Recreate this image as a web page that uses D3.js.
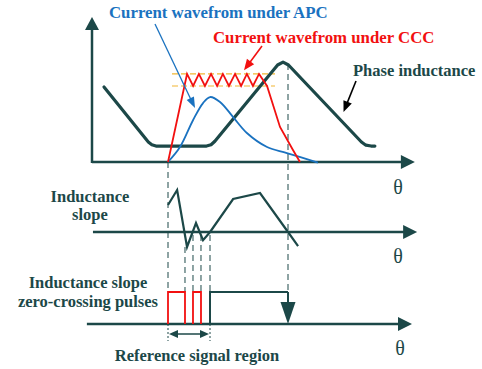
<!DOCTYPE html>
<html><head><meta charset="utf-8">
<script src="https://cdn.jsdelivr.net/npm/d3@7"></script>
<style>
html,body{margin:0;padding:0;background:#fff;}
svg{display:block;}
</style>
</head><body>
<svg id="chart" width="482" height="369"></svg>
<script>
// ---------- DATA (x in angle units 0..100, y in normalized units) ----------
const phaseInductance = [[3.75,53.6],[17.6,14.3],[18.7,12.3],[20,11.4],[35.8,11.4],[37.2,12.3],[38.4,14.8],[58,69.3],[59.7,71.4],[61.4,69.3],[84.2,14.3],[85.6,12],[87.2,11.4],[88.4,11.4]];
const currentCCC = [[23.75,0],[29.7,62.9],[31.6,54.3],[33.4,62.9],[35.3,54.3],[37.2,62.9],[39.1,54.3],[40.9,62.9],[42.8,54.3],[44.7,62.9],[46.6,54.3],[48.4,62.9],[50.3,54.3],[52.2,62.9],[54.7,54.3],[58.75,25],[62.8,8.6],[65,0]];
const currentAPC = [[23.75,0],[27.5,10.7],[31.6,30],[34.7,42.1],[36.9,46.4],[40,42.9],[44.1,32.1],[48.4,20.7],[54.7,10.7],[60.9,6.4],[70.6,-0.5]];
const hysteresisBand = [62.9, 54.3];
const bandRange = [25, 57.2];
const inductanceSlope = [[23.75,0.9],[26.6,1.4],[29.7,-0.5],[32.5,0.3],[34.7,-0.27],[36.9,0],[44.1,1.1],[52.5,1.3],[61.25,0],[64.4,-0.47]];
const zeroCrossings = [29.06,31.56,34.06,36.875];
const redPulses = [[23.75,29.06],[31.56,34.06]];
const darkPulse = [36.875,61.25];
const referenceRegion = [23.75,36.875];
const commutationAngle = 61.25;
const startAngle = 23.75;
const labels = {
  apc:"Current wavefrom under APC",
  ccc:"Current wavefrom under CCC",
  phase:"Phase inductance",
  slope:["Inductance","slope"],
  pulses:["Inductance slope","zero-crossing pulses"],
  region:"Reference signal region",
  theta:"θ"
};

// ---------- SCALES ----------
const DARK="#1c4848", BLUE="#1a72c0", RED="#f21010", ORANGE="#f2b632";
const FONT="'Liberation Serif','Times New Roman',Times,serif";
const svg=d3.select("#chart");
const x=d3.scaleLinear().domain([0,100]).range([92,412]);
const yTop=d3.scaleLinear().domain([0,100]).range([162,22]);
const yMid=d3.scaleLinear().domain([-1,1]).range([262,202]);
const yBot=d3.scaleLinear().domain([0,1]).range([324,292]);

function arrowHead(g,x1,y1,x2,y2,len,w,color){
  const a=Math.atan2(y2-y1,x2-x1);
  const bx=x2-len*Math.cos(a), by=y2-len*Math.sin(a);
  const px=-Math.sin(a)*w/2, py=Math.cos(a)*w/2;
  g.append("path").attr("d",`M${x2},${y2}L${bx+px},${by+py}L${bx-px},${by-py}Z`).attr("fill",color);
}
function arrowLine(g,x1,y1,x2,y2,sw,len,w,color){
  const a=Math.atan2(y2-y1,x2-x1);
  g.append("line").attr("x1",x1).attr("y1",y1).attr("x2",x2-(len*0.8)*Math.cos(a)).attr("y2",y2-(len*0.8)*Math.sin(a))
   .attr("stroke",color).attr("stroke-width",sw);
  arrowHead(g,x1,y1,x2,y2,len,w,color);
}
function label(g,tx,ty,str,opts){
  const t=g.append("text").attr("x",tx).attr("y",ty).attr("font-family",FONT)
    .attr("fill",opts.color||DARK).attr("font-size",opts.size||16.5)
    .attr("font-weight",opts.bold===false?"normal":"bold")
    .attr("text-anchor",opts.anchor||"start").text(str);
  return t;
}

const g=svg.append("g");

// ---------- DASHED GUIDES ----------
const dash="6,4";
g.append("line").attr("x1",x(startAngle)).attr("x2",x(startAngle)).attr("y1",yTop(0)).attr("y2",yBot(1))
 .attr("stroke",DARK).attr("stroke-width",1).attr("stroke-dasharray",dash);
g.append("line").attr("x1",x(commutationAngle)).attr("x2",x(commutationAngle)).attr("y1",yTop(70)).attr("y2",yBot(1))
 .attr("stroke",DARK).attr("stroke-width",1).attr("stroke-dasharray",dash);
zeroCrossings.forEach((z,i)=>{
  g.append("line").attr("x1",x(z)).attr("x2",x(z)).attr("y1",i===0?yMid(-0.5):yMid(-0.1)).attr("y2",yBot(1))
   .attr("stroke",DARK).attr("stroke-width",1).attr("stroke-dasharray",dash);
});

// ---------- TOP CHART ----------
arrowLine(g,x(0),yTop(0)+1,x(0),yTop(103.6),2.5,13,14,DARK);
arrowLine(g,x(0),yTop(0),x(100.9),yTop(0),2.5,14,14,DARK);
hysteresisBand.forEach(v=>{
  g.append("line").attr("x1",x(bandRange[0])).attr("x2",x(bandRange[1])).attr("y1",yTop(v)).attr("y2",yTop(v))
   .attr("stroke",ORANGE).attr("stroke-width",1.2).attr("stroke-dasharray","6,3");
});
g.append("path").attr("d",d3.line().x(d=>x(d[0])).y(d=>yTop(d[1])).curve(d3.curveLinear)(phaseInductance)).attr("fill","none")
 .attr("stroke",DARK).attr("stroke-width",3.2).attr("stroke-linecap","round").attr("stroke-linejoin","round");
g.append("path").attr("d",d3.line().x(d=>x(d[0])).y(d=>yTop(d[1])).curve(d3.curveCatmullRom)(currentAPC)).attr("fill","none")
 .attr("stroke",BLUE).attr("stroke-width",1.8);
g.append("path").attr("d",d3.line().x(d=>x(d[0])).y(d=>yTop(d[1])).curve(d3.curveLinear)(currentCCC)).attr("fill","none")
 .attr("stroke",RED).attr("stroke-width",1.8).attr("stroke-linejoin","miter");

label(g,109,18,labels.apc,{color:BLUE,size:16.8});
arrowLine(g,155,24,x(32.2),yTop(38.5),1.3,11,8,BLUE);
label(g,213,43,labels.ccc,{color:RED,size:16.8});
arrowLine(g,262,46,x(47.5),yTop(65.5),1.6,11,9,RED);
label(g,353,76,labels.phase,{size:16.5});
arrowLine(g,356,81,x(78.6),yTop(35.7),1.6,11,9,"#000");
label(g,398,194,labels.theta,{size:20,bold:false,anchor:"middle"});

// ---------- MIDDLE CHART ----------
arrowLine(g,x(0.3),yMid(0),x(101.6),yMid(0),2.5,14,14,DARK);
g.append("path").attr("d",d3.line().x(d=>x(d[0])).y(d=>yMid(d[1]))(inductanceSlope)).attr("fill","none")
 .attr("stroke",DARK).attr("stroke-width",2.2).attr("stroke-linejoin","miter");
label(g,90,202,labels.slope[0],{anchor:"middle"});
label(g,90,220,labels.slope[1],{anchor:"middle"});
label(g,398,263,labels.theta,{size:20,bold:false,anchor:"middle"});

// ---------- BOTTOM CHART ----------
arrowLine(g,x(-1.6),yBot(0),x(100),yBot(0),2.5,14,14,DARK);
redPulses.forEach(p=>{
  g.append("path").attr("d",`M${x(p[0])},${yBot(0)}L${x(p[0])},${yBot(1)}L${x(p[1])},${yBot(1)}L${x(p[1])},${yBot(0)}`)
   .attr("fill","none").attr("stroke",RED).attr("stroke-width",1.8);
});
g.append("path").attr("d",`M${x(darkPulse[0])},${yBot(0)}L${x(darkPulse[0])},${yBot(1)}L${x(darkPulse[1])},${yBot(1)}`)
 .attr("fill","none").attr("stroke",DARK).attr("stroke-width",2);
arrowLine(g,x(commutationAngle),yBot(1),x(commutationAngle),yBot(0),2,22,15,DARK);
referenceRegion.forEach(r=>{
  g.append("line").attr("x1",x(r)).attr("x2",x(r)).attr("y1",yBot(0)).attr("y2",yBot(0)+17)
   .attr("stroke",DARK).attr("stroke-width",1).attr("stroke-dasharray","2,2");
});
(function(){
  const xa=x(referenceRegion[0])+1, xb=x(referenceRegion[1])-1, yy=yBot(0)+10;
  g.append("line").attr("x1",xa+6).attr("x2",xb-6).attr("y1",yy).attr("y2",yy).attr("stroke",DARK).attr("stroke-width",1.5);
  arrowHead(g,xb,yy,xa,yy,9,8,DARK);
  arrowHead(g,xa,yy,xb,yy,9,8,DARK);
})();
label(g,88,288,labels.pulses[0],{anchor:"middle"});
label(g,88,307,labels.pulses[1],{anchor:"middle"});
label(g,197,361,labels.region,{anchor:"middle"});
label(g,400,355,labels.theta,{size:20,bold:false,anchor:"middle"});
</script>
</body></html>
